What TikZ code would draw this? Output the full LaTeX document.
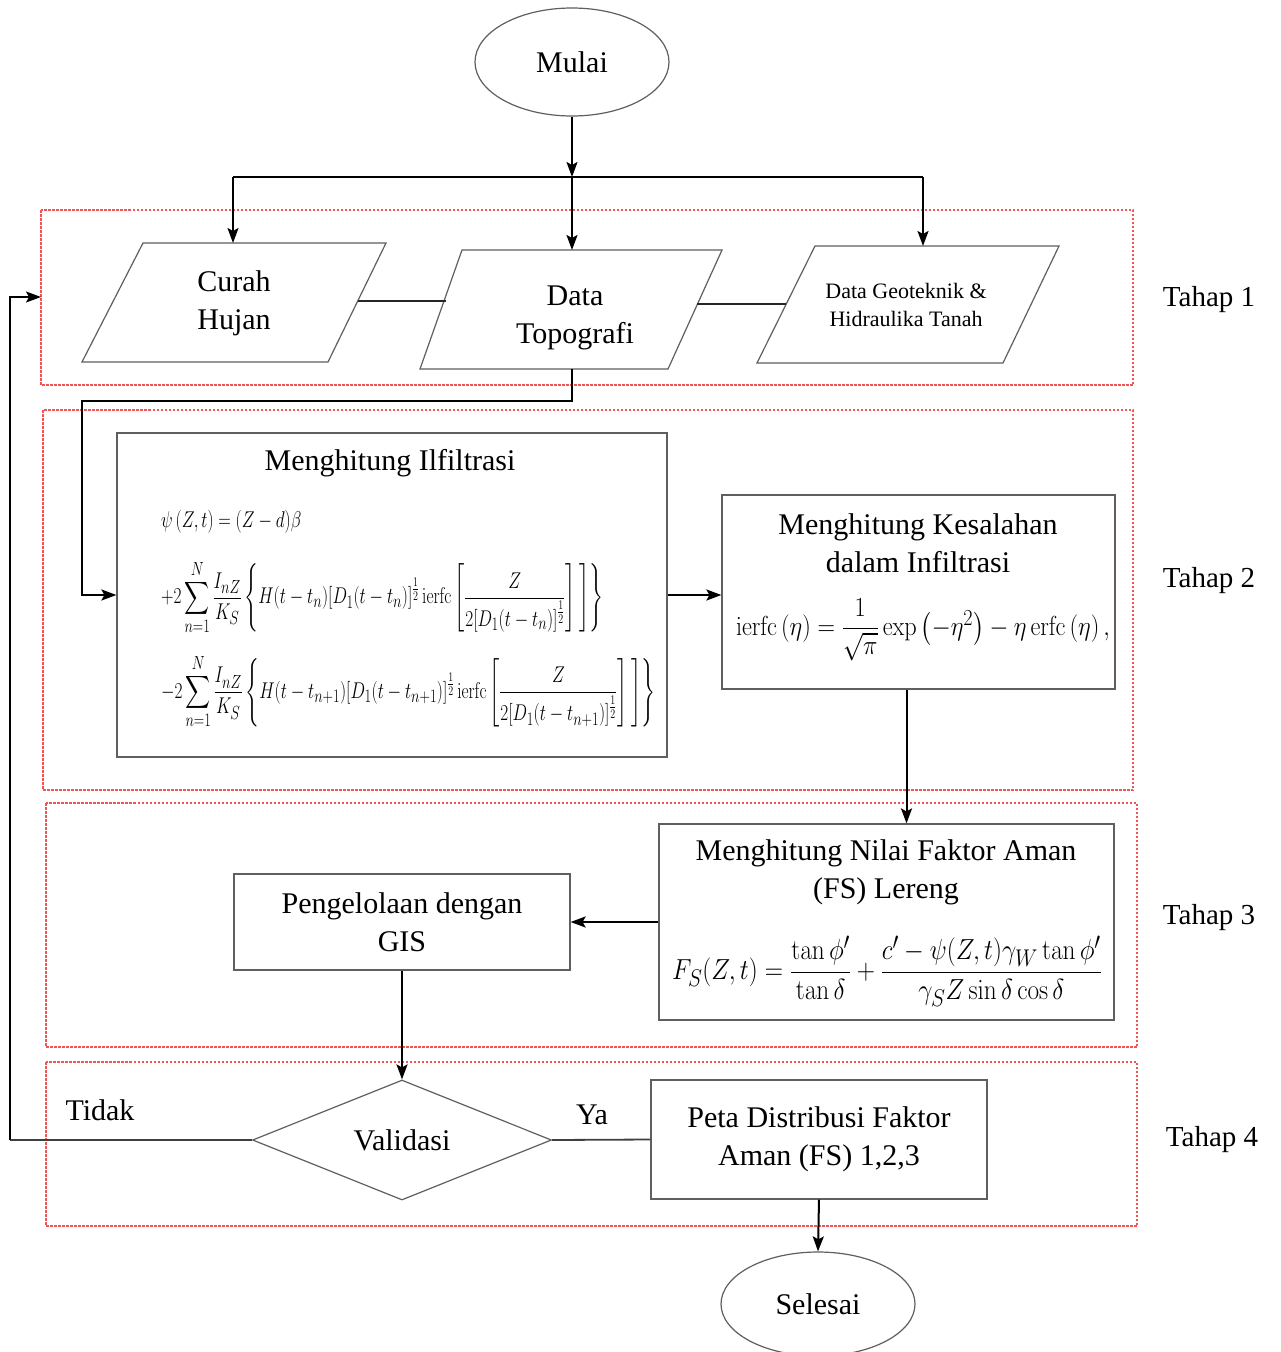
\documentclass[tikz,border=0pt]{standalone}
\usepackage{graphicx}
\usepackage{amsmath}
\usepackage[no-math]{fontspec}
\setmainfont{Liberation Serif}
\usetikzlibrary{arrows.meta,shapes.geometric}
\definecolor{tahapc}{RGB}{240,85,85}
\definecolor{boxc}{RGB}{95,95,95}
\begin{document}
\begin{tikzpicture}[x=1pt,y=-1pt,
  every node/.style={font=\fontsize{30}{38}\selectfont, text=black},
  box/.style={draw=boxc, line width=1.2pt, rectangle, inner sep=0pt},
  para/.style={draw=boxc, line width=1.2pt},
  arr/.style={line width=2pt, -{Stealth[length=15pt,width=11pt,inset=3pt]}},
  conn/.style={line width=2pt},
  thinconn/.style={line width=1.4pt, black!85},
  tahapbox/.style={draw=tahapc, line width=1.1pt, dash pattern=on 2.5pt off 1.5pt},
  lbl/.style={font=\fontsize{29}{34}\selectfont}
]
\useasboundingbox (0,0) rectangle (1281,1352);
\fill[white] (0,0) rectangle (1281,1352);

% stage frames
\draw[tahapbox] (41,210) rectangle (1133,385);
\draw[tahapbox] (43,410) rectangle (1133,790);
\draw[tahapbox] (46,803) rectangle (1137,1047);
\draw[tahapbox] (46,1062) rectangle (1137,1226);

\node[lbl] (t1) at (1209,300) {Tahap 1};
\node[lbl] (t2) at (1209,581) {Tahap 2};
\node[lbl] (t3) at (1209,918) {Tahap 3};
\node[lbl] (t4) at (1212,1140) {Tahap 4};

% start
\node[ellipse, draw=boxc, line width=1.2pt, minimum width=194, minimum height=108] (mulai) at (572,62) {Mulai};

% parallelograms
\draw[para] (143,243) -- (386,243) -- (328,362) -- (82,362) -- cycle;
\draw[para] (462,250) -- (722,250) -- (668,369) -- (420,369) -- cycle;
\draw[para] (815,246) -- (1059,246) -- (1003,363) -- (757,363) -- cycle;
\node[align=center] (curah) at (234,303) {Curah\\Hujan};
\node[align=center] (topo) at (575,318) {Data\\Topografi};
\node[align=center, font=\fontsize{22}{28}\selectfont] (geo) at (906,305) {Data Geoteknik \&\\Hidraulika Tanah};

\coordinate (curahtop) at (233,243);
\coordinate (topotop) at (572,250);
\coordinate (geotop) at (923,246);
\coordinate (curahE) at (358,301);
\coordinate (topoW) at (446,301);
\coordinate (topoE) at (697,304);
\coordinate (geoW) at (786,304);
\coordinate (topoS) at (572,369);

% top distribution
\coordinate (j) at (572,177);
\coordinate (jl) at (233,177);
\coordinate (jr) at (923,177);
\draw[arr] (mulai.south) -- (j);
\draw[conn] (jl) -- (jr);
\draw[arr] (jl) -- (curahtop);
\draw[arr] (j) -- (topotop);
\draw[arr] (jr) -- (geotop);
\draw[thinconn] (curahE) -- (topoW);
\draw[thinconn] (topoE) -- (geoW);

% stage 2
\node[box, minimum width=550, minimum height=324] (inf) at (392,595) {};
\node (inftitle) at (390,463) {Menghitung Ilfiltrasi};
\node[anchor=north west, inner sep=0pt] (infeq) at (161,503) {\resizebox*{494pt}{226pt}{$
\begin{array}{@{}l@{}}
\psi\left(Z,t\right)=(Z-d)\beta\\[24pt]
\displaystyle +2\sum_{n=1}^{N}\frac{I_{nZ}}{K_S}\left\{H(t-t_n)[D_1(t-t_n)]^{\frac{1}{2}}\,\mathrm{ierfc}\left[\frac{Z}{2[D_1(t-t_n)]^{\frac{1}{2}}}\right]\left.\vphantom{\frac{Z}{2[D_1(t-t_n)]^{\frac{1}{2}}}}\right]\right\}\\[44pt]
\displaystyle -2\sum_{n=1}^{N}\frac{I_{nZ}}{K_S}\left\{H(t-t_{n+1})[D_1(t-t_{n+1})]^{\frac{1}{2}}\,\mathrm{ierfc}\left[\frac{Z}{2[D_1(t-t_{n+1})]^{\frac{1}{2}}}\right]\left.\vphantom{\frac{Z}{2[D_1(t-t_{n+1})]^{\frac{1}{2}}}}\right]\right\}
\end{array}$}};

\node[box, minimum width=393, minimum height=194] (kes) at (918.5,592) {};
\node[align=center] (kestitle) at (918,543) {Menghitung Kesalahan\\dalam Infiltrasi};
\node[inner sep=0pt] (keseq) at (923,630) {\resizebox*{374pt}{62pt}{$\mathrm{ierfc}\left(\eta\right)=\dfrac{1}{\sqrt{\pi}}\exp\left(-\eta^{2}\right)-\eta\,\mathrm{erfc}\left(\eta\right),$}};

% stage 3
\node[box, minimum width=455, minimum height=196] (fs) at (886.5,922) {};
\node[align=center] (fstitle) at (886,872) {Menghitung Nilai Faktor Aman\\(FS) Lereng};
\node[inner sep=0pt] (fseq) at (887,971) {\resizebox*{430pt}{70pt}{$F_S(Z,t)=\dfrac{\tan\phi'}{\tan\delta}+\dfrac{c'-\psi(Z,t)\gamma_W\tan\phi'}{\gamma_S Z\sin\delta\cos\delta}$}};

\node[box, minimum width=336, minimum height=96, align=center] (gis) at (402,922) {Pengelolaan dengan\\GIS};

% stage 4
\node[diamond, draw=boxc, line width=1.2pt, minimum width=299, minimum height=120, inner sep=0pt] (val) at (402,1140) {Validasi};
\node[box, minimum width=336, minimum height=119, align=center] (peta) at (819,1139.5) {Peta Distribusi Faktor\\Aman (FS) 1,2,3};
\node[ellipse, draw=boxc, line width=1.2pt, minimum width=194, minimum height=104] (selesai) at (818,1304) {Selesai};

\node (tidak) at (100,1110) {Tidak};
\node (ya) at (592,1115) {Ya};

% connectors
\coordinate (bend1) at (572,401);
\coordinate (bend2) at (82,401);
\draw[arr] (topoS) -- (bend1) -- (bend2) |- (inf.west);
\draw[arr] (inf.east) -- (inf.east -| kes.west);
\draw[arr] ([xshift=-12pt]kes.south) -- ([xshift=-12pt]kes.south |- fs.north);
\draw[arr] (fs.west) -- (gis.east);
\draw[arr] (gis.south) -- (val.north);
\draw[line width=1.8pt, black!75] (val.east) -- (peta.west);
\draw[arr] (peta.south) -- (selesai.north);
\coordinate (fb1) at (10,1140);
\coordinate (fb2) at (10,297);
\coordinate (t1w) at (41,297);
\draw[line width=1.8pt, black!75] (val.west) -- (fb1);
\draw[arr, line width=1.4pt] (fb1) -- (fb2) -- (t1w);
\end{tikzpicture}
\end{document}
